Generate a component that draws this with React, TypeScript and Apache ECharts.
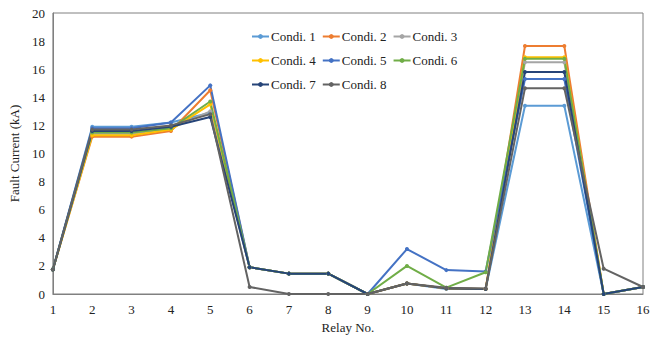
import React, { useEffect, useRef } from "react";
import * as echarts from "echarts";

const relays = ["1", "2", "3", "4", "5", "6", "7", "8", "9", "10", "11", "12", "13", "14", "15", "16"];
const seriesNames = ["Condi. 1", "Condi. 2", "Condi. 3", "Condi. 4", "Condi. 5", "Condi. 6", "Condi. 7", "Condi. 8"];
const colors = ["#5B9BD5", "#ED7D31", "#A5A5A5", "#FFC000", "#4472C4", "#70AD47", "#264478", "#636363"];

const cond1 = [1.75, 11.9, 11.9, 12.2, 12.9, 1.9, 1.45, 1.45, 0, 0.75, 0.35, 0.35, 13.4, 13.4, 0, 0.5];
const cond2 = [1.75, 11.2, 11.2, 11.6, 14.5, 1.9, 1.45, 1.45, 0, 0.75, 0.4, 0.35, 17.65, 17.65, 0, 0.5];
const cond3 = [1.75, 11.4, 11.4, 11.8, 13.0, 1.9, 1.45, 1.45, 0, 0.75, 0.4, 0.35, 16.5, 16.5, 0, 0.5];
const cond4 = [1.75, 11.3, 11.3, 11.7, 13.5, 1.9, 1.45, 1.45, 0, 0.75, 0.4, 0.35, 16.85, 16.85, 0, 0.5];
const cond5 = [1.75, 11.8, 11.8, 12.2, 14.85, 1.9, 1.45, 1.45, 0, 3.2, 1.7, 1.6, 15.3, 15.3, 0, 0.5];
const cond6 = [1.75, 11.5, 11.5, 11.8, 13.7, 1.9, 1.45, 1.45, 0, 2.0, 0.45, 1.55, 16.75, 16.75, 0, 0.5];
const cond7 = [1.75, 11.6, 11.6, 11.9, 12.6, 1.9, 1.45, 1.45, 0, 0.75, 0.4, 0.35, 15.8, 15.8, 0, 0.5];
const cond8 = [1.75, 11.7, 11.7, 12.0, 12.8, 0.5, 0, 0, 0, 0.75, 0.45, 0.4, 14.65, 14.65, 1.8, 0.5];

const allData = [cond1, cond2, cond3, cond4, cond5, cond6, cond7, cond8];

export default function App() {
  const ref = useRef<HTMLDivElement>(null);
  useEffect(() => {
    if (!ref.current) return;
    const chart = echarts.init(ref.current, undefined, { renderer: "svg" });
    const font = "Liberation Serif";
    const legendBase = {
      orient: "horizontal" as const,
      itemWidth: 17,
      itemHeight: 6,
      itemGap: 6,
      padding: 0,
      textStyle: { fontFamily: font, fontSize: 13, color: "#222", padding: [0, 0, 0, -3] },
      left: 251,
    };
    chart.setOption({
      animation: false,
      backgroundColor: "#fff",
      color: colors,
      textStyle: { fontFamily: font },
      grid: {
        left: 49,
        right: 16,
        top: 13,
        bottom: 46,
        show: true,
        borderColor: "#808080",
        borderWidth: 1,
      },
      legend: [
        { ...legendBase, top: 30, data: seriesNames.slice(0, 3) },
        { ...legendBase, top: 54, data: seriesNames.slice(3, 6) },
        { ...legendBase, top: 78, data: seriesNames.slice(6, 8) },
      ],
      xAxis: {
        type: "category",
        data: relays,
        boundaryGap: false,
        name: "Relay No.",
        nameLocation: "middle",
        nameGap: 23,
        nameTextStyle: { fontFamily: font, fontSize: 13, color: "#222" },
        axisLine: { lineStyle: { color: "#808080", width: 1 } },
        axisTick: { show: false },
        axisLabel: { fontFamily: font, fontSize: 13, color: "#222", margin: 9 },
        splitLine: { show: false },
      },
      yAxis: {
        type: "value",
        min: 0,
        max: 20,
        interval: 2,
        name: "Fault Current (kA)",
        nameLocation: "middle",
        nameGap: 30,
        nameTextStyle: { fontFamily: font, fontSize: 13, color: "#222" },
        axisLine: { show: true, lineStyle: { color: "#808080", width: 1 } },
        axisTick: { show: false },
        axisLabel: { fontFamily: font, fontSize: 13, color: "#222", margin: 8 },
        splitLine: { show: false },
      },
      series: seriesNames.map((name, i) => ({
        name,
        type: "line",
        data: allData[i],
        symbol: "circle",
        symbolSize: 4,
        lineStyle: { width: 2, color: colors[i] },
        itemStyle: { color: colors[i] },
      })),
    });
    return () => chart.dispose();
  }, []);
  return <div ref={ref} style={{ width: 659, height: 340, position: "absolute", left: 0, top: 0 }} />;
}
